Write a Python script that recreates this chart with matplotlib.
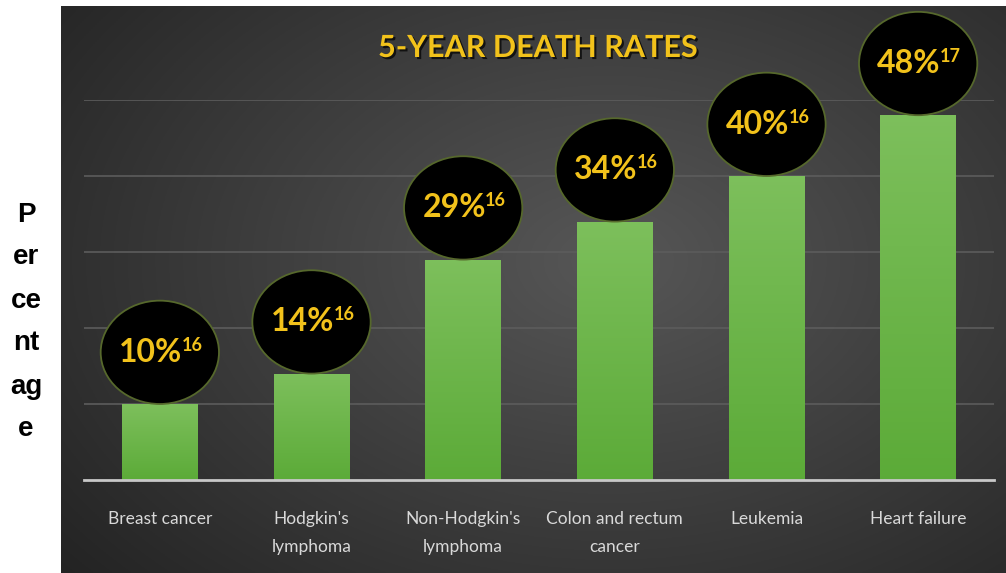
import numpy as np
import matplotlib.pyplot as plt
from matplotlib.patches import Ellipse
import matplotlib.patheffects as pe

categories = ["Breast cancer", "Hodgkin's\nlymphoma", "Non-Hodgkin's\nlymphoma",
              "Colon and rectum\ncancer", "Leukemia", "Heart failure"]
rates = [10, 14, 29, 34, 40, 48]
refs = ["16", "16", "16", "16", "16", "17"]

W, H = 1006, 573
fig = plt.figure(figsize=(W / 100, H / 100), dpi=100)
fig.patch.set_facecolor("white")

# dark panel with a soft radial gradient
bg = fig.add_axes([61 / W, 0, 945 / W, 567 / H])
yy, xx = np.mgrid[0:1:300j, 0:1:500j]
r = np.sqrt(((xx - 0.58) / 0.75) ** 2 + ((yy - 0.45) / 0.85) ** 2)
shade = np.clip(0.34 - 0.2 * r, 0.13, 0.34)
bg.imshow(np.dstack([shade] * 3), aspect="auto", extent=[0, 1, 0, 1], origin="upper")
bg.set_axis_off()

ax = fig.add_axes([84 / W, 93 / H, 910 / W, 380 / H])
ax.set_facecolor("none")
for v in range(10, 51, 10):
    ax.axhline(v, color="#5c5c5c", lw=1.2, zorder=1)
ax.axhline(0, color="#c8c8c8", lw=2, zorder=4, clip_on=False)

x = np.arange(len(rates))
bars = ax.bar(x, rates, width=0.5, color="#6cb34a", zorder=2)

# vertical green gradient inside each bar
grad = np.linspace(0, 1, 100)[:, None]
top = np.array([0.49, 0.75, 0.36])
bot = np.array([0.36, 0.67, 0.22])
cols = top[None, None, :] * (1 - grad[..., None]) + bot[None, None, :] * grad[..., None]
for b in bars:
    x0, y0 = b.get_x(), b.get_y()
    im = ax.imshow(cols, aspect="auto", origin="upper", zorder=3,
                   extent=[x0, x0 + b.get_width(), y0, y0 + b.get_height()])
    im.set_clip_path(b)
ax.set_xlim(-0.5, 5.5)
ax.set_ylim(0, 50)

# black bubbles with value labels
for xi, v, ref in zip(x, rates, refs):
    cy = v + 6.8
    ax.add_patch(Ellipse((xi, cy), 0.78, 13.6, facecolor="black", edgecolor="#56682c",
                         lw=1.3, zorder=5, clip_on=False))
    t = ax.text(xi - 0.06, cy, f"{v}%", ha="center", va="center", color="#f2c21b",
                fontsize=23, fontweight="bold", family="Lato", zorder=6, clip_on=False)
    ax.annotate(ref, xy=(0.99, 1.04), xycoords=t, ha="left", va="top", color="#f2c21b",
                fontsize=13, fontweight="bold", family="Lato", zorder=6,
                annotation_clip=False)

ax.set_xticks(x)
ax.set_xticklabels(categories, color="#d9d9d9", fontsize=12.5, family="Lato",
                   linespacing=1.95, va="top")
ax.tick_params(axis="x", length=0, pad=22)
ax.set_yticks([])
for s in ax.spines.values():
    s.set_visible(False)

fig.text(538 / W, 1 - 48 / H, "5-YEAR DEATH RATES", ha="center", va="center",
         color="#f2c21b", fontsize=22, fontweight="bold", family="Lato",
         path_effects=[pe.withSimplePatchShadow(offset=(1.5, -1.5),
                                                shadow_rgbFace="black", alpha=0.7)])

fig.text(26 / W, 1 - 322 / H, "P\ner\nce\nnt\nag\ne", ha="center", va="center",
         color="black", fontsize=20, fontweight="bold", family="Liberation Sans",
         linespacing=1.85)

fig.savefig("out.png", dpi=100)
